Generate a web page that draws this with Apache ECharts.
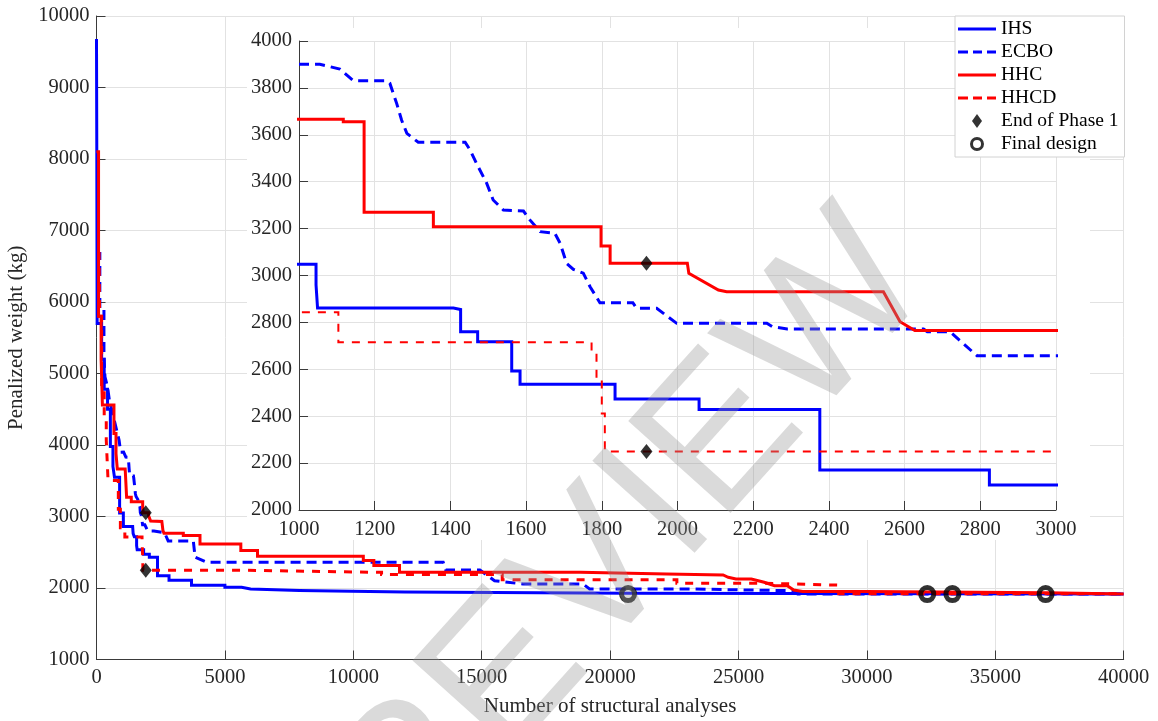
<!DOCTYPE html>
<html><head><meta charset="utf-8">
<script src="https://cdn.jsdelivr.net/npm/echarts@6/dist/echarts.min.js"></script>
<style>html,body{margin:0;padding:0;background:#fff}#c{width:1158px;height:721px}</style>
</head><body><div id="c"></div>
<script>
// IHS and HHCD: change points [analyses, new best weight] (drawn as steps)
const ihs = [[0,9680],[12,8100],[25,5700],[200,5200],[300,4780],[430,4500],[540,3980],[640,3700],[700,3550],[900,3048],[1045,2960],[1049,2861],[1408,2855],[1427,2760],[1472,2718],[1562,2593],[1584,2536],[1835,2473],[2057,2429],[2376,2171],[2824,2107],[3700,2040],[5000,2010],[5650,1985],[6000,1965],[7900,1945],[12000,1925],[20700,1915],[40000,1915]];
const hhcd = [[100,6700],[120,5800],[200,4770],[300,4350],[380,4070],[450,3505],[850,3100],[930,2843],[1104,2715],[1773,2668],[1786,2554],[1800,2412],[1808,2250],[5600,2235],[8050,2219],[11100,2190],[15800,2115],[22600,2067],[26000,2040],[28900,1920],[40000,1920]];
// ECBO and HHC: polyline vertices [analyses, weight]
const ecbo = [[0,6680],[130,6680],[130,5900],[290,5900],[290,5234],[330,4954],[430,4810],[500,4630],[880,4066],[940,3900],[1055,3901],[1108,3880],[1143,3831],[1232,3830],[1240,3820],[1258,3734],[1271,3663],[1285,3606],[1315,3568],[1439,3568],[1452,3535],[1469,3478],[1496,3393],[1513,3322],[1540,3279],[1593,3275],[1610,3237],[1637,3187],[1676,3180],[1690,3137],[1707,3052],[1725,3026],[1751,3010],[1769,2952],[1795,2884],[1882,2884],[1892,2860],[1945,2860],[1998,2796],[2236,2796],[2250,2782],[2290,2772],[2650,2772],[2660,2760],[2720,2760],[2791,2658],[3770,2658],[3840,2430],[4290,2360],[13500,2360],[13600,2252],[14930,2252],[15500,2102],[16600,2056],[18950,2056],[19200,1986],[23100,1986],[23100,1962],[27100,1962],[27300,1915],[40000,1915]];
const hhc = [[0,8100],[80,8100],[80,5800],[180,5800],[180,5200],[230,5200],[230,4560],[680,4560],[680,4160],[760,4160],[760,3880],[810,3880],[810,3666],[1117,3666],[1117,3656],[1172,3656],[1172,3270],[1355,3270],[1355,3208],[1798,3208],[1798,3126],[1822,3126],[1822,3052],[2026,3052],[2030,3009],[2108,2938],[2130,2931],[2544,2931],[2588,2803],[2627,2765],[3380,2765],[3380,2733],[4030,2733],[4030,2617],[5620,2617],[5620,2523],[6270,2523],[6270,2445],[10390,2445],[10390,2383],[10800,2383],[10800,2313],[11800,2313],[11800,2219],[18830,2219],[18830,2196],[22200,2196],[22200,2182],[24400,2182],[24600,2150],[24900,2126],[25500,2126],[26000,2080],[26400,2032],[26900,2032],[27150,1972],[27500,1952],[30000,1952],[30000,1932],[37000,1932],[37000,1915],[40000,1915]];
const phase1End = [[1918,3052],[1918,2250]];
const finalDesign = [[20700,1915],[32350,1915],[33330,1915],[36960,1915]];
const seriesNames = ['IHS','ECBO','HHC','HHCD','End of Phase 1','Final design'];

const SERIF = '"Liberation Serif","Times New Roman",serif';
const TXT = '#262626';
const GRID = '#e2e2e2';

function axisBase(min, max, interval, margin, zl) {
  return {
    type: 'value', min, max, interval, zlevel: zl,
    axisLine: {show: true, onZero: false, lineStyle: {color: '#3a3a3a', width: 1}},
    axisTick: {show: true, inside: true, length: 9, lineStyle: {color: '#3a3a3a'}},
    splitLine: {show: true, lineStyle: {color: GRID, width: 1}},
    axisLabel: {fontFamily: SERIF, fontSize: 20.5, color: TXT, margin, formatter: v => String(v)},
  };
}

function lineSeries(name, data, grid, color, width, dash, step) {
  return {
    type: 'line', name, data, xAxisIndex: grid, yAxisIndex: grid,
    symbol: 'none', step: step ? 'end' : false, clip: true, silent: true,
    zlevel: grid, z: 2,
    lineStyle: {color, width, type: dash || 'solid', cap: 'butt', join: 'miter'},
    itemStyle: {color},
  };
}

const series = [];
[0, 1].forEach(g => {
  series.push(lineSeries('IHS', ihs, g, '#0000ff', 3, null, true));
  series.push(lineSeries('ECBO', ecbo, g, '#0000ff', 3, [10, 6], false));
  series.push(lineSeries('HHC', hhc, g, '#ff0000', 3, null, false));
  series.push(lineSeries('HHCD', hhcd, g, '#ff0000', g === 0 ? 3 : 2, [8, 8], true));
  series.push({type: 'scatter', name: 'End of Phase 1', data: phase1End, xAxisIndex: g, yAxisIndex: g,
    symbol: 'diamond', symbolSize: [12, 15], itemStyle: {color: '#000'}, zlevel: g, z: 5, clip: true, silent: true});
  series.push({type: 'scatter', name: 'Final design', data: finalDesign, xAxisIndex: g, yAxisIndex: g,
    symbol: 'circle', symbolSize: 13, itemStyle: {color: 'rgba(255,255,255,0)', borderColor: '#000', borderWidth: 5}, zlevel: g, z: 5, clip: true, silent: true});
});

const x0 = axisBase(0, 40000, 5000, 8, 0);
Object.assign(x0, {name: 'Number of structural analyses', nameLocation: 'middle', nameGap: 36,
  nameTextStyle: {fontFamily: SERIF, fontSize: 21, color: TXT}});
const y0 = axisBase(1000, 10000, 1000, 7, 0);
Object.assign(y0, {name: 'Penalized weight (kg)', nameLocation: 'middle', nameGap: 66,
  nameTextStyle: {fontFamily: SERIF, fontSize: 21, color: TXT}});
const x1 = axisBase(1000, 3000, 200, 9, 1); x1.gridIndex = 1; x1.z = 1;
const y1 = axisBase(2000, 4000, 200, 7, 1); y1.gridIndex = 1; y1.z = 1;

const solidIcon = 'path://M0,0H38V3H0Z';
const dashIcon = 'path://M0,0H10V3H0Z M15,0H24V3H15Z M29,0H38V3H29Z';
const diamondIcon = 'path://M5,0L10,7L5,14L0,7Z';
const ringIcon = 'path://M7,0A7,7,0,1,1,6.99,0Z M7,3A4,4,0,1,0,7.01,3Z';

const chart = echarts.init(document.getElementById('c'), null, {renderer: 'canvas'});
chart.setOption({
  animation: false,
  backgroundColor: '#fff',
  textStyle: {fontFamily: SERIF},
  grid: [
    {left: 96.5, right: 34.3, top: 16, bottom: 61.5, containLabel: false, outerBoundsMode: 'none'},
    {left: 299, right: 102, top: 41, bottom: 211, containLabel: false, outerBoundsMode: 'none'}
  ],
  xAxis: [x0, x1],
  yAxis: [y0, y1],
  legend: {
    data: [
      {name: 'IHS', icon: solidIcon, itemStyle: {color: '#0000ff', borderWidth: 0}},
      {name: 'ECBO', icon: dashIcon, itemStyle: {color: '#0000ff', borderWidth: 0}},
      {name: 'HHC', icon: solidIcon, itemStyle: {color: '#ff0000', borderWidth: 0}},
      {name: 'HHCD', icon: dashIcon, itemStyle: {color: '#ff0000', borderWidth: 0}},
      {name: 'End of Phase 1', icon: diamondIcon, itemStyle: {color: '#000', borderWidth: 0}},
      {name: 'Final design', icon: ringIcon, itemStyle: {color: '#000', borderWidth: 0}}
    ],
    orient: 'vertical', left: 955, top: 16,
    itemWidth: 38, itemHeight: 14, itemGap: 3, padding: [3, 6, 3, 3],
    backgroundColor: '#fff', borderColor: '#d2d2d2', borderWidth: 1, borderRadius: 0,
    textStyle: {fontFamily: SERIF, fontSize: 19.5, color: '#000'}, zlevel: 1, z: 6, selectedMode: false
  },
  graphic: [
    {type: 'rect', shape: {x: 247, y: 28, width: 843, height: 512}, style: {fill: '#fff'}, zlevel: 1, z: 0, silent: true},
    {type: 'text', x: 630, y: 542, rotation: 48 * Math.PI / 180,
      style: {text: 'REVIEW', font: '200px "Liberation Sans", Arial, sans-serif', fill: 'rgba(150,150,150,0.35)', align: 'center', verticalAlign: 'middle'},
      zlevel: 2, z: 10, silent: true}
  ],
  series
});
</script></body></html>
